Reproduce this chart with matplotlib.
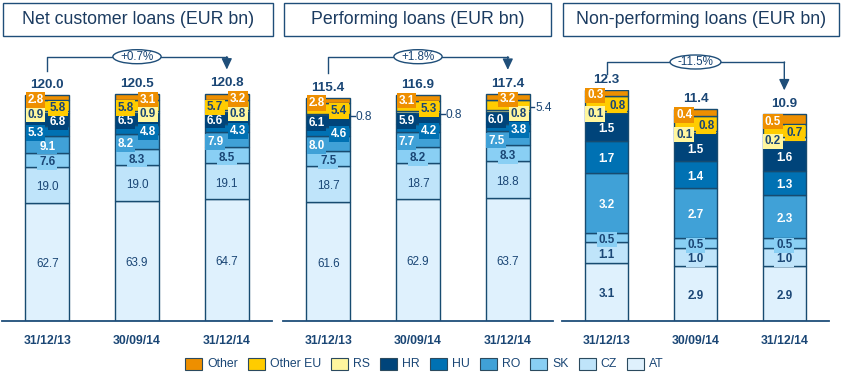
import matplotlib
matplotlib.use('Agg')
import matplotlib.pyplot as plt
import matplotlib.transforms as mtransforms
from matplotlib.patches import Rectangle, Ellipse, FancyArrowPatch
from matplotlib.lines import Line2D
import numpy as np

plt.rcParams['font.family'] = ['Liberation Sans', 'DejaVu Sans']

# ---------------- data ----------------
dates = ['31/12/13', '30/09/14', '31/12/14']
segments = ['AT', 'CZ', 'SK', 'RO', 'HU', 'HR', 'RS', 'Other EU', 'Other']  # bottom -> top

net_311213 = [62.7, 19.0, 7.6, 9.1, 5.3, 6.8, 0.9, 5.8, 2.8]
net_300914 = [63.9, 19.0, 8.3, 8.2, 4.8, 6.5, 0.9, 5.8, 3.1]
net_311214 = [64.7, 19.1, 8.5, 7.9, 4.3, 6.6, 0.8, 5.7, 3.2]
net_totals = [120.0, 120.5, 120.8]

perf_311213 = [61.6, 18.7, 7.5, 8.0, 4.6, 6.1, 0.8, 5.4, 2.8]
perf_300914 = [62.9, 18.7, 8.2, 7.7, 4.2, 5.9, 0.8, 5.3, 3.1]
perf_311214 = [63.7, 18.8, 8.3, 7.5, 3.8, 6.0, 0.8, 5.4, 3.2]
perf_totals = [115.4, 116.9, 117.4]

npl_311213 = [3.1, 1.1, 0.5, 3.2, 1.7, 1.5, 0.1, 0.8, 0.3]
npl_300914 = [2.9, 1.0, 0.5, 2.7, 1.4, 1.5, 0.1, 0.8, 0.4]
npl_311214 = [2.9, 1.0, 0.5, 2.3, 1.3, 1.6, 0.2, 0.7, 0.5]
npl_totals = [12.3, 11.4, 10.9]

titles = ['Net customer loans (EUR bn)', 'Performing loans (EUR bn)',
          'Non-performing loans (EUR bn)']
changes = ['+0.7%', '+1.8%', '-11.5%']

# ---------------- styling / layout ----------------
colors = ['#DFF1FD', '#BFE4FA', '#89CFF4', '#40A1D7', '#0071B3',
          '#00447A', '#FFF69E', '#FFCC00', '#EE8F00']
white_segs = {'RO', 'HU', 'HR', 'Other'}

# label placement per bar (c=centre, l=left, r=right, o=outside right)
net_label_side = [
    ['c', 'c', 'c', 'c', 'l', 'r', 'l', 'r', 'l'],
    ['c', 'c', 'c', 'l', 'r', 'l', 'r', 'l', 'r'],
    ['c', 'c', 'c', 'l', 'r', 'l', 'r', 'l', 'r'],
]
perf_label_side = [
    ['c', 'c', 'c', 'l', 'r', 'l', 'o', 'r', 'l'],
    ['c', 'c', 'c', 'l', 'r', 'l', 'o', 'r', 'l'],
    ['c', 'c', 'c', 'l', 'r', 'l', 'r', 'o', 'c'],
]
npl_label_side = [
    ['c', 'c', 'c', 'c', 'c', 'c', 'l', 'r', 'l'],
    ['c', 'c', 'c', 'c', 'c', 'c', 'l', 'r', 'l'],
    ['c', 'c', 'c', 'c', 'c', 'c', 'l', 'r', 'l'],
]

NAVY = '#1A4675'
EDGE = '#174B70'
LINE = '#1F4E79'
TITLE_C = '#1B3B60'

W, H = 842, 377
fig = plt.figure(figsize=(W / 100, H / 100), dpi=100)
PT = 72 / 100.0  # points per pixel


def fx(p):
    return p / W


def fy(p):
    return 1 - p / H


AX_BOTTOM, AX_TOP = 320.7, 90.0
panel_x = [(2.3, 271.7), (283.3, 552.7), (562.3, 828.7)]
title_x = [(3.3, 272.7), (284.0, 550.7), (563.3, 839.3)]
ytops = [122.7, 119.5, 12.3]
bracket_y = [56.7, 56.7, 62.0]
bracket_stub = [14.5, 16.5, 12.0]
BAR_W = 0.49

panels = [
    (np.array([net_311213, net_300914, net_311214]), net_totals, net_label_side),
    (np.array([perf_311213, perf_300914, perf_311214]), perf_totals, perf_label_side),
    (np.array([npl_311213, npl_300914, npl_311214]), npl_totals, npl_label_side),
]

renderer = fig.canvas.get_renderer()

for p, (vals, totals, sides) in enumerate(panels):
    x0, x1 = panel_x[p]
    ax = fig.add_axes([fx(x0), fy(AX_BOTTOM), fx(x1 - x0), (AX_BOTTOM - AX_TOP) / H])
    ax.set_xlim(-0.5, 2.5)
    ax.set_ylim(0, ytops[p])
    for s in ['left', 'right', 'top']:
        ax.spines[s].set_visible(False)
    ax.spines['bottom'].set_color(LINE)
    ax.spines['bottom'].set_linewidth(1.3)
    ax.set_yticks([])
    xs = np.arange(len(dates))
    ax.set_xticks(xs)
    ax.set_xticklabels(dates, fontsize=8.8, fontweight='bold', color=NAVY)
    ax.tick_params(axis='x', length=0, pad=10)
    ax.set_facecolor('none')

    cum = np.zeros_like(vals)
    bottoms = np.zeros(len(dates))
    for k, seg in enumerate(segments):
        cum[:, k] = bottoms
        ax.bar(xs, vals[:, k], bottom=bottoms, width=BAR_W, color=colors[k],
               edgecolor=EDGE, linewidth=1.0, zorder=2)
        bottoms = bottoms + vals[:, k]

    px_per_unit = (x1 - x0) / 3.0
    trans_down = mtransforms.offset_copy(ax.transData, fig=fig, x=0, y=-2.0, units='dots')
    dy = -2.5 * PT
    for j in range(len(dates)):
        for k, seg in enumerate(segments):
            v = vals[j, k]
            yc = cum[j, k] + v / 2
            side = sides[j][k]
            txt = f'{v:.1f}'
            tc = 'white' if seg in white_segs else NAVY
            bold = not (p < 2 and seg in ('AT', 'CZ'))
            if side == 'o':
                xe = j + BAR_W / 2
                ax.plot([xe, xe + 4.5 / px_per_unit], [yc, yc], color=NAVY, lw=1.0,
                        transform=trans_down, clip_on=False, zorder=5)
                ax.annotate(txt, xy=(xe, yc), xytext=(5.5 * PT, dy),
                            textcoords='offset points', ha='left', va='center',
                            fontsize=8.6, color=NAVY, annotation_clip=False, zorder=6)
                continue
            if side == 'c':
                xy, off, ha = (j, yc), (0, dy), 'center'
            elif side == 'l':
                xy, off, ha = (j - BAR_W / 2, yc), (2.3 * PT, dy), 'left'
            else:
                xy, off, ha = (j + BAR_W / 2, yc), (-3.0 * PT, dy), 'right'
            ax.annotate(txt, xy=xy, xytext=off, textcoords='offset points', ha=ha,
                        va='center', fontsize=8.4,
                        fontweight='bold' if bold else 'normal', color=tc,
                        bbox=dict(boxstyle='square,pad=0.15', fc=colors[k], ec='none'),
                        annotation_clip=False, zorder=6)
        # total
        ax.annotate(f'{totals[j]:.1f}', xy=(j, vals[j].sum()), xytext=(0, 7.3),
                    textcoords='offset points', ha='center', va='center', fontsize=9.7,
                    fontweight='bold', color=NAVY, annotation_clip=False, zorder=6)

    # bracket with change ellipse
    def to_px(x, y):
        dx_, dy_ = ax.transData.transform((x, y))
        return dx_, H - dy_

    xa, top_a = to_px(0, vals[0].sum())
    xb, top_b = to_px(2, vals[2].sum())
    by = bracket_y[p]
    fig.add_artist(Line2D([fx(xa), fx(xa), fx(xb)],
                          [fy(by + bracket_stub[p]), fy(by), fy(by)],
                          color=LINE, lw=1.0, zorder=3))
    fig.add_artist(FancyArrowPatch((fx(xb), fy(by)), (fx(xb), fy(top_b - 24)),
                                   transform=fig.transFigure,
                                   arrowstyle='-|>,head_length=0.55,head_width=0.26',
                                   mutation_scale=12, color=LINE, lw=1.0,
                                   shrinkA=0, shrinkB=0, zorder=3))
    cx = (xa + xb) / 2
    t = fig.text(fx(cx), fy(by), changes[p], ha='center', va='center', fontsize=8.4,
                 color=NAVY, zorder=6)
    tw = t.get_window_extent(renderer).width
    fig.add_artist(Ellipse((fx(cx), fy(by)), width=(tw + 15) / W, height=14 / H,
                           transform=fig.transFigure, fc='white', ec=LINE, lw=1.0,
                           zorder=5))

    # title box
    tx0, tx1 = title_x[p]
    fig.add_artist(Rectangle((fx(tx0), fy(36)), fx(tx1 - tx0), (36 - 3.3) / H,
                             transform=fig.transFigure, fill=False, ec=LINE, lw=1.0))
    fig.text(fx((tx0 + tx1) / 2), fy(20.0), titles[p], ha='center', va='center',
             fontsize=12.8, color=TITLE_C)

# ---------------- legend ----------------
legend_labels = segments[::-1]
legend_colors = colors[::-1]
SQ_W, SQ_H, GAP_T, GAP_I = 17, 12, 5, 10
texts = []
widths = []
for lab in legend_labels:
    tt = fig.text(0, 0, lab, fontsize=8.8, color=NAVY)
    widths.append(tt.get_window_extent(renderer).width)
    texts.append(tt)
total_w = sum(SQ_W + GAP_T + w for w in widths) + GAP_I * (len(widths) - 1)
x = 424.5 - total_w / 2
LY = 364
for lab, col, tt, w in zip(legend_labels, legend_colors, texts, widths):
    fig.add_artist(Rectangle((fx(x), fy(LY + SQ_H / 2)), fx(SQ_W), SQ_H / H,
                             transform=fig.transFigure, fc=col, ec='#2B4A5E', lw=0.8))
    tt.set_position((fx(x + SQ_W + GAP_T), fy(LY)))
    tt.set_va('center')
    tt.set_ha('left')
    x += SQ_W + GAP_T + w + GAP_I

fig.savefig('out.png', dpi=100)
